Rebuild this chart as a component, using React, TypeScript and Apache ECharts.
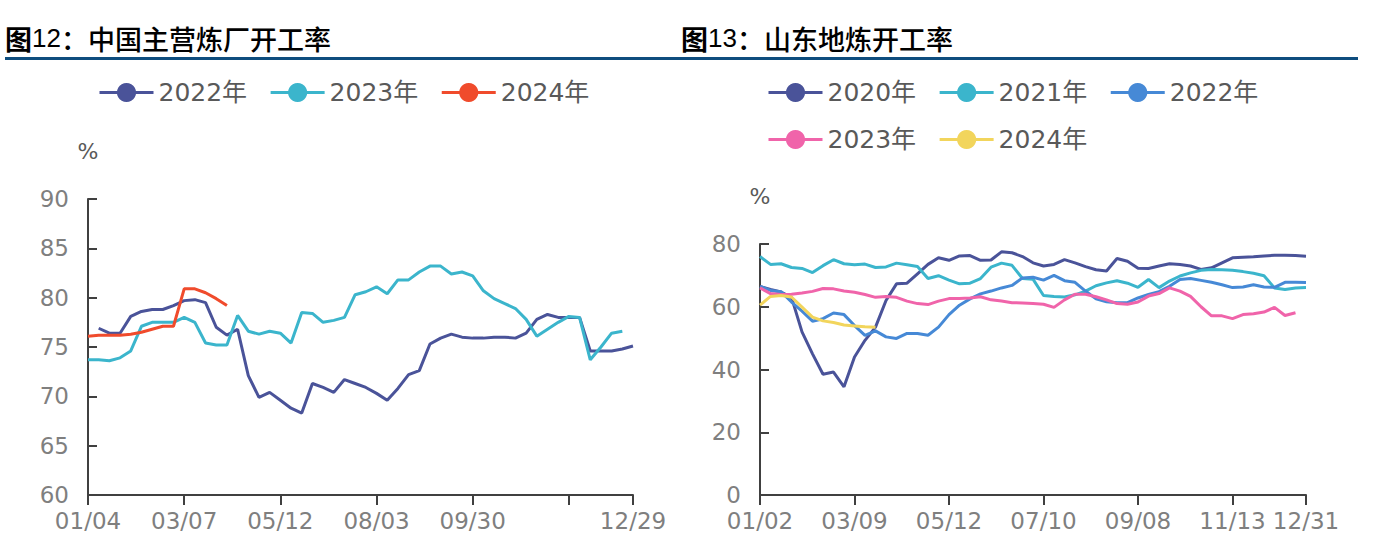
import React, { useEffect, useRef } from "react";
import * as echarts from "echarts";

// ---------- Figure 12: China major refinery operating rate ----------
const leftDates = [
  "01/04", "01/11", "01/18", "01/25", "02/01", "02/08", "02/15", "02/22", "03/01", "03/07",
  "03/14", "03/21", "03/28", "04/04", "04/11", "04/18", "04/25", "05/05", "05/12",
  "05/19", "05/26", "06/09", "06/16", "06/30", "07/07", "07/14", "07/27", "08/03",
  "08/10", "08/17", "08/24", "08/31", "09/07", "09/14", "09/21", "09/26", "09/30",
  "10/13", "10/20", "10/27", "11/03", "11/10", "11/17", "11/24", "12/01", "12/08",
  "12/12", "12/15", "12/19", "12/22", "12/26", "12/29",
];
const leftSeriesNames = ["2022年", "2023年", "2024年"];
const left2022 = [
  null, 76.9, 76.4, 76.4, 78.1, 78.6, 78.8, 78.8, 79.2, 79.7,
  79.8, 79.5, 77.0, 76.2, 76.8, 72.1, 69.9, 70.4, 69.6, 68.8,
  68.3, 71.3, 70.9, 70.4, 71.7, 71.3, 70.9, 70.3, 69.6, 70.8,
  72.2, 72.6, 75.3, 75.9, 76.3, 76.0, 75.9, 75.9, 76.0, 76.0,
  75.9, 76.4, 77.8, 78.3, 78.0, 78.0, 78.0, 74.6, 74.6, 74.6,
  74.8, 75.1,
];
const left2023 = [
  73.7, 73.7, 73.6, 73.9, 74.6, 77.1, 77.5, 77.5, 77.5, 78.0,
  77.5, 75.4, 75.2, 75.2, 78.2, 76.6, 76.3, 76.6, 76.4, 75.4,
  78.5, 78.4, 77.5, 77.7, 78.0, 80.3, 80.6, 81.1, 80.4, 81.8,
  81.8, 82.6, 83.2, 83.2, 82.4, 82.6, 82.2, 80.7, 79.9, 79.4,
  78.9, 77.8, 76.1, 76.8, 77.5, 78.1, 78.0, 73.7, 75.0, 76.4,
  76.6, null,
];
const left2024 = [
  76.1, 76.2, 76.2, 76.2, 76.3, 76.5, 76.8, 77.1, 77.1, 80.9,
  80.9, 80.5, 79.9, 79.2,
];

// ---------- Figure 13: Shandong independent refinery operating rate ----------
const rightDates = [
  "01/02", "01/09", "01/16", "01/23", "01/30", "02/06", "02/13", "02/20", "02/27", "03/09",
  "03/16", "03/23", "03/30", "04/06", "04/13", "04/20", "04/27", "05/05", "05/12",
  "05/19", "05/26", "06/02", "06/09", "06/16", "06/21", "06/26", "07/03", "07/10",
  "07/17", "07/24", "07/31", "08/07", "08/14", "08/21", "08/28", "09/01", "09/08",
  "09/15", "09/22", "09/29", "10/09", "10/16", "10/23", "10/30", "11/06", "11/13",
  "11/20", "11/27", "12/04", "12/11", "12/18", "12/25", "12/31",
];
const rightSeriesNames = ["2020年", "2021年", "2022年", "2023年", "2024年"];
const right2020 = [
  66.5, 65.5, 64.7, 63.0, 52.0, 45.0, 38.5, 39.2, 34.5, 44.0,
  49.3, 53.5, 62.0, 67.3, 67.5, 70.5, 73.5, 75.6, 74.8, 76.2,
  76.3, 74.8, 74.9, 77.5, 77.2, 76.0, 74.0, 73.0, 73.5, 75.0,
  74.0, 72.8, 71.8, 71.4, 75.4, 74.5, 72.3, 72.2, 73.0, 73.7,
  73.5, 73.0, 71.9, 72.4, 74.0, 75.6, 75.8, 75.9, 76.2, 76.4,
  76.4, 76.3, 76.1,
];
const right2021 = [
  76.0, 73.5, 73.7, 72.5, 72.2, 70.9, 73.1, 75.0, 73.7, 73.4,
  73.6, 72.5, 72.7, 73.9, 73.4, 72.8, 69.0, 69.9, 68.5, 67.3,
  67.5, 69.0, 72.6, 73.9, 73.2, 69.0, 68.8, 63.6, 63.3, 63.1,
  63.8, 65.0, 66.7, 67.6, 68.3, 67.5, 66.2, 68.7, 66.1, 68.2,
  69.8, 70.8, 71.6, 71.9, 71.8, 71.6, 71.2, 70.7, 69.9, 66.0,
  65.5, 66.0, 66.1,
];
const right2022 = [
  66.5, 65.2, 64.8, 61.5, 58.6, 55.4, 56.2, 58.0, 57.5, 54.0,
  50.9, 52.3, 50.4, 49.9, 51.5, 51.5, 50.9, 53.5, 57.5, 60.5,
  62.5, 64.1, 65.0, 66.0, 66.8, 69.2, 69.4, 68.5, 70.0, 68.3,
  67.8, 65.0, 62.5, 61.6, 61.3, 61.3, 62.8, 63.9, 64.8, 66.5,
  68.7, 69.0, 68.4, 67.8, 67.0, 66.1, 66.3, 67.0, 66.3, 66.2,
  67.8, 67.8, 67.7,
];
const right2023 = [
  66.0, 64.2, 63.9, 64.0, 64.4, 64.9, 65.8, 65.7, 65.0, 64.6,
  63.9, 63.0, 63.3, 63.0, 61.8, 61.0, 60.7, 61.8, 62.6, 62.6,
  62.8, 63.2, 62.2, 61.8, 61.3, 61.2, 61.0, 60.8, 59.8, 62.2,
  64.0, 64.0, 63.2, 62.2, 61.0, 60.8, 61.5, 63.4, 64.2, 66.0,
  65.0, 63.3, 60.0, 57.1, 57.1, 56.2, 57.5, 57.8, 58.3, 59.8,
  57.2, 58.1,
];
const right2024 = [
  60.5, 63.3, 63.6, 63.1, 59.9, 56.7, 55.5, 55.0, 54.2, 53.9,
  53.6, 53.5,
];

const leftColors = ["#4a5399", "#3bb5cc", "#f04b2c"];
const rightColors = ["#4a5399", "#3bb5cc", "#4689d6", "#f064aa", "#f2d55c"];

const FONT = "'DejaVu Sans', 'Noto Sans CJK SC', sans-serif";
const AXIS_COLOR = "#404040";
const LABEL_COLOR = "#7f7f7f";
const SPLIT_X = 670; // where the left panel ends and the right panel begins
const PAGE_W = 1373;
const PAGE_H = 557;

function makeX(data: string[], tickIdx: (i: number) => boolean, labelIdx: (i: number) => boolean) {
  return {
    type: "category",
    data,
    boundaryGap: false,
    axisLine: { show: true, lineStyle: { color: AXIS_COLOR, width: 2 } },
    axisTick: { show: true, interval: (i: number) => tickIdx(i), length: 10, lineStyle: { color: AXIS_COLOR, width: 2 } },
    axisLabel: { interval: (i: number) => labelIdx(i), color: LABEL_COLOR, fontSize: 23, fontFamily: FONT, margin: 14 },
    splitLine: { show: false },
  };
}

function makeY(min: number, max: number, interval: number) {
  return {
    type: "value",
    min,
    max,
    interval,
    name: "%",
    nameLocation: "end",
    nameGap: 37,
    nameTextStyle: { color: "#595959", fontSize: 22, fontFamily: FONT, align: "center" },
    axisLine: { show: true, lineStyle: { color: AXIS_COLOR, width: 2 } },
    axisTick: { show: true, inside: true, length: 9, lineStyle: { color: AXIS_COLOR, width: 2 } },
    axisLabel: { color: LABEL_COLOR, fontSize: 23, fontFamily: FONT, margin: 19 },
    splitLine: { show: false },
  };
}

function lineSeries(name: string, data: (number | null)[], color: string) {
  return {
    type: "line",
    name,
    data,
    symbol: "circle",
    showSymbol: false,
    smooth: false,
    connectNulls: false,
    itemStyle: { color },
    lineStyle: { color, width: 3 },
  };
}

const legendCommon = {
  orient: "horizontal",
  itemWidth: 54,
  itemHeight: 24,
  itemGap: 22,
  lineStyle: { width: 3 },
  textStyle: { color: "#595959", fontSize: 25, fontFamily: FONT },
};

const titleRich = {
  a: { fontSize: 27, fontWeight: "bold", fontFamily: "'Noto Sans CJK SC', sans-serif", fill: "#000" },
  b: { fontSize: 26, fontFamily: "'Liberation Sans', sans-serif", fill: "#000" },
  c: { fontSize: 27, fontWeight: 500, fontFamily: "'Noto Sans CJK SC', sans-serif", fill: "#000" },
};

function title(x: number, num: string, text: string) {
  return {
    type: "text",
    x,
    y: 38,
    style: { text: `{a|图}{b|${num}}{c|：${text}}`, rich: titleRich, verticalAlign: "middle" },
  };
}

function rule(x: number, width: number) {
  return { type: "rect", shape: { x, y: 57, width, height: 3 }, style: { fill: "#0e4d7e" } };
}

const leftOption = {
  animation: false,
  backgroundColor: "#ffffff",
  graphic: [title(5, "12", "中国主营炼厂开工率"), rule(5, SPLIT_X - 5)],
  legend: { ...legendCommon, left: 93, top: 75, data: leftSeriesNames },
  grid: { left: 88, right: SPLIT_X - 633, top: 199, bottom: 62, containLabel: false },
  xAxis: makeX(
    leftDates,
    (i) => i % 9 === 0 || i === leftDates.length - 1,
    (i) => (i % 9 === 0 && i !== 45) || i === leftDates.length - 1
  ),
  yAxis: makeY(60, 90, 5),
  series: [
    lineSeries(leftSeriesNames[0], left2022, leftColors[0]),
    lineSeries(leftSeriesNames[1], left2023, leftColors[1]),
    lineSeries(leftSeriesNames[2], left2024, leftColors[2]),
  ],
};

const rightOption = {
  animation: false,
  backgroundColor: "#ffffff",
  graphic: [title(681 - SPLIT_X, "13", "山东地炼开工率"), rule(0, 1358 - SPLIT_X)],
  legend: { ...legendCommon, left: 767 - SPLIT_X - 5, top: 75, width: 520, data: rightSeriesNames },
  grid: { left: 760 - SPLIT_X, right: PAGE_W - 1306, top: 244, bottom: 62, containLabel: false },
  xAxis: makeX(
    rightDates,
    (i) => i % 9 === 0 || i === rightDates.length - 1,
    (i) => i % 9 === 0 || i === rightDates.length - 1
  ),
  yAxis: makeY(0, 80, 20),
  series: [
    lineSeries(rightSeriesNames[0], right2020, rightColors[0]),
    lineSeries(rightSeriesNames[1], right2021, rightColors[1]),
    lineSeries(rightSeriesNames[2], right2022, rightColors[2]),
    lineSeries(rightSeriesNames[3], right2023, rightColors[3]),
    lineSeries(rightSeriesNames[4], right2024, rightColors[4]),
  ],
};

function Panel({ option, left, width }: { option: any; left: number; width: number }) {
  const ref = useRef<HTMLDivElement>(null);
  useEffect(() => {
    if (!ref.current) return;
    const chart = echarts.init(ref.current, undefined, { renderer: "svg" });
    chart.setOption(option);
    return () => chart.dispose();
  }, [option]);
  return (
    <div
      ref={ref}
      style={{ position: "absolute", left, top: 0, width, height: PAGE_H, background: "#fff" }}
    />
  );
}

export default function App() {
  return (
    <div style={{ position: "fixed", left: 0, top: 0, width: PAGE_W, height: PAGE_H, background: "#fff" }}>
      <Panel option={leftOption} left={0} width={SPLIT_X} />
      <Panel option={rightOption} left={SPLIT_X} width={PAGE_W - SPLIT_X} />
    </div>
  );
}
